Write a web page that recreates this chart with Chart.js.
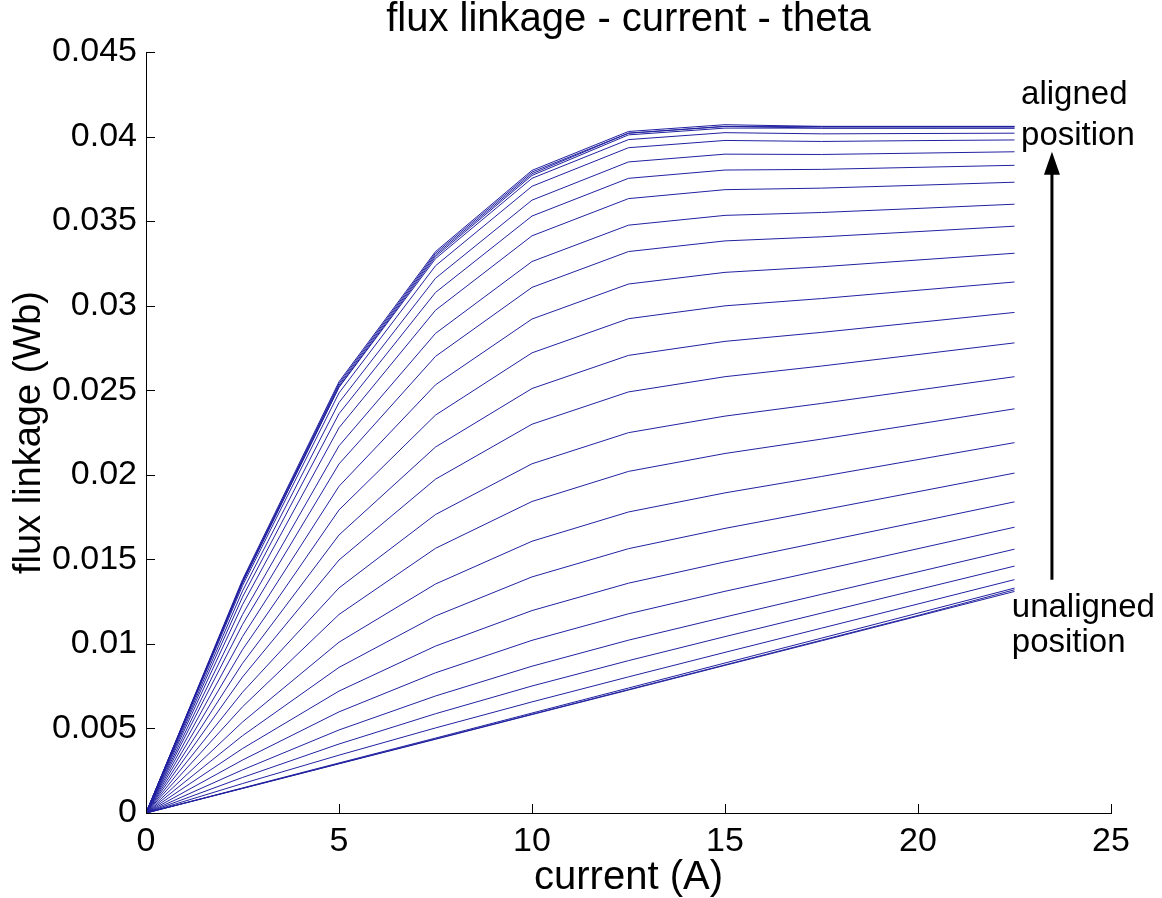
<!DOCTYPE html>
<html>
<head>
<meta charset="utf-8">
<title>flux linkage - current - theta</title>
<script src="https://cdn.jsdelivr.net/npm/chart.js@4.4.0/dist/chart.umd.min.js"></script>
<style>
    html, body { margin: 0; padding: 0; background: #fff; }
    #chart { display: block; }
</style>
</head>
<body>
<canvas id="chart" width="1162" height="898"></canvas>
<script>
// Current samples (A)
const current = [0, 2.5, 5, 7.5, 10, 12.5, 15, 17.5, 20, 22.5];

// Flux linkage (Wb), one curve per rotor position, unaligned -> aligned
const flux01 = [0, 0.00145, 0.00291, 0.00436, 0.00582, 0.00727, 0.00873, 0.01018, 0.01164, 0.0131];
const flux02 = [0, 0.00146, 0.00292, 0.00438, 0.00584, 0.0073, 0.00876, 0.01022, 0.01168, 0.0132];
const flux03 = [0, 0.00148, 0.00296, 0.00443, 0.00591, 0.00739, 0.00887, 0.01034, 0.01182, 0.0133];
const flux04 = [0, 0.00174, 0.00342, 0.00503, 0.00657, 0.00805, 0.0095, 0.01093, 0.01236, 0.0138];
const flux05 = [0, 0.0021, 0.00408, 0.00587, 0.00751, 0.00901, 0.01043, 0.01182, 0.01321, 0.0146];
const flux06 = [0, 0.00255, 0.00491, 0.00692, 0.00868, 0.01022, 0.01159, 0.01293, 0.01426, 0.0156];
const flux07 = [0, 0.00313, 0.00598, 0.00829, 0.01021, 0.01178, 0.01311, 0.01436, 0.01563, 0.0169];
const flux08 = [0, 0.00381, 0.00721, 0.00987, 0.01197, 0.01359, 0.01485, 0.01603, 0.01721, 0.0184];
const flux09 = [0, 0.00457, 0.00861, 0.01165, 0.01396, 0.01563, 0.01683, 0.01791, 0.019, 0.0201];
const flux10 = [0, 0.00538, 0.0101, 0.01354, 0.01607, 0.0178, 0.01893, 0.0199, 0.0209, 0.0219];
const flux11 = [0, 0.00628, 0.01174, 0.01565, 0.01842, 0.0202, 0.02126, 0.02211, 0.023, 0.0239];
const flux12 = [0, 0.00714, 0.01331, 0.01765, 0.02065, 0.02249, 0.02347, 0.02422, 0.02501, 0.0258];
const flux13 = [0, 0.00804, 0.01496, 0.01974, 0.02299, 0.0249, 0.0258, 0.02643, 0.02711, 0.0278];
const flux14 = [0, 0.00885, 0.01644, 0.02164, 0.0251, 0.02706, 0.02789, 0.02842, 0.02901, 0.0296];
const flux15 = [0, 0.00966, 0.01792, 0.02353, 0.02721, 0.02923, 0.02999, 0.03042, 0.03091, 0.0314];
const flux16 = [0, 0.01043, 0.01932, 0.02532, 0.02921, 0.03128, 0.03197, 0.0323, 0.0327, 0.0331];
const flux17 = [0, 0.01115, 0.02064, 0.027, 0.03108, 0.0332, 0.03383, 0.03407, 0.03438, 0.0347];
const flux18 = [0, 0.01173, 0.02171, 0.02836, 0.03261, 0.03476, 0.03534, 0.03551, 0.03575, 0.036];
const flux19 = [0, 0.01232, 0.02278, 0.02973, 0.03413, 0.03633, 0.03686, 0.03695, 0.03712, 0.0373];
const flux20 = [0, 0.01277, 0.02361, 0.03078, 0.0353, 0.03753, 0.03802, 0.03806, 0.03818, 0.0383];
const flux21 = [0, 0.01313, 0.02427, 0.03162, 0.03624, 0.0385, 0.03896, 0.03894, 0.03902, 0.0391];
const flux22 = [0, 0.01344, 0.02484, 0.03236, 0.03706, 0.03934, 0.03977, 0.03971, 0.03976, 0.0398];
const flux23 = [0, 0.01362, 0.02517, 0.03278, 0.03753, 0.03982, 0.04023, 0.04016, 0.04018, 0.0402];
const flux24 = [0, 0.0136, 0.0252, 0.0329, 0.0377, 0.0401, 0.0405, 0.0405, 0.0405, 0.0405];
const flux25 = [0, 0.0137, 0.0253, 0.033, 0.0378, 0.0402, 0.0406, 0.0405, 0.0405, 0.0405];
const flux26 = [0, 0.0137, 0.0254, 0.0331, 0.0379, 0.0402, 0.0406, 0.0406, 0.0406, 0.0406];
const flux27 = [0, 0.0138, 0.0255, 0.0332, 0.038, 0.0403, 0.0407, 0.0406, 0.0406, 0.0406];

const curves = [flux01, flux02, flux03, flux04, flux05, flux06, flux07, flux08, flux09,
    flux10, flux11, flux12, flux13, flux14, flux15, flux16, flux17, flux18, flux19,
    flux20, flux21, flux22, flux23, flux24, flux25, flux26, flux27];

// Tick labels
const xTickLabels = ['0', '5', '10', '15', '20', '25'];
const yTickLabels = ['0', '0.005', '0.01', '0.015', '0.02', '0.025', '0.03', '0.035', '0.04', '0.045'];

const FONT = '"Liberation Sans", Arial, Helvetica, sans-serif';
const LINE_COLOR = '#2121a0';

// MATLAB style ticks pointing inside the axes
const insideTicks = {
    id: 'insideTicks',
    afterDraw(chart) {
        const { ctx, chartArea, scales } = chart;
        ctx.save();
        ctx.strokeStyle = '#000';
        ctx.lineWidth = 1;
        ctx.beginPath();
        scales.x.ticks.forEach(t => {
            const px = Math.round(scales.x.getPixelForValue(t.value)) + 0.5;
            ctx.moveTo(px, chartArea.bottom);
            ctx.lineTo(px, chartArea.bottom - 9);
        });
        scales.y.ticks.forEach(t => {
            const py = Math.round(scales.y.getPixelForValue(t.value)) + 0.5;
            ctx.moveTo(chartArea.left, py);
            ctx.lineTo(chartArea.left + 9, py);
        });
        ctx.stroke();
        ctx.restore();
    }
};

// "aligned / unaligned position" notes and the arrow between them
const positionNotes = {
    id: 'positionNotes',
    afterDraw(chart) {
        const { ctx, scales } = chart;
        const x = scales.x, y = scales.y;
        ctx.save();
        ctx.fillStyle = '#000';
        ctx.font = '33px ' + FONT;
        ctx.textAlign = 'left';
        ctx.textBaseline = 'alphabetic';
        ctx.fillText('aligned', x.getPixelForValue(22.67), y.getPixelForValue(0.0419));
        ctx.fillText('position', x.getPixelForValue(22.67), y.getPixelForValue(0.0395));
        ctx.fillText('unaligned', x.getPixelForValue(22.43), y.getPixelForValue(0.0116));
        ctx.fillText('position', x.getPixelForValue(22.43), y.getPixelForValue(0.0095));

        // arrow
        const ax = x.getPixelForValue(23.47);
        const top = y.getPixelForValue(0.0391);
        const bottom = y.getPixelForValue(0.0138);
        ctx.strokeStyle = '#000';
        ctx.lineWidth = 3;
        ctx.beginPath();
        ctx.moveTo(ax, bottom);
        ctx.lineTo(ax, top + 20);
        ctx.stroke();
        ctx.beginPath();
        ctx.moveTo(ax, top);
        ctx.lineTo(ax - 8, top + 23);
        ctx.lineTo(ax + 8, top + 23);
        ctx.closePath();
        ctx.fill();
        ctx.restore();
    }
};

const ctx = document.getElementById('chart').getContext('2d');
new Chart(ctx, {
    type: 'line',
    data: {
        datasets: curves.map(c => ({
            data: c.map((v, i) => ({ x: current[i], y: v })),
            borderColor: LINE_COLOR,
            borderWidth: 1,
            pointRadius: 0,
            tension: 0,
            fill: false
        }))
    },
    options: {
        responsive: false,
        devicePixelRatio: 1,
        animation: false,
        layout: { padding: { left: 0, right: 51, top: 0, bottom: 0 } },
        plugins: {
            legend: { display: false },
            tooltip: { enabled: false },
            title: {
                display: true,
                fullSize: false,
                text: 'flux linkage - current - theta',
                color: '#000',
                font: { family: FONT, size: 40, weight: 'normal', lineHeight: 1 },
                padding: { top: 0, bottom: 12 }
            }
        },
        scales: {
            x: {
                type: 'linear',
                min: 0,
                max: 25,
                afterBuildTicks: scale => {
                    scale.ticks = xTickLabels.map(l => ({ value: parseFloat(l) }));
                },
                afterFit: scale => { scale.height = 85; },
                ticks: {
                    color: '#000',
                    font: { family: FONT, size: 34 },
                    padding: 8,
                    maxRotation: 0,
                    callback: (v, i) => xTickLabels[i]
                },
                grid: { display: false, drawTicks: false },
                border: { display: true, color: '#000', width: 1 },
                title: {
                    display: true,
                    text: 'current (A)',
                    color: '#000',
                    font: { family: FONT, size: 40, lineHeight: 1 },
                    padding: { top: 0, bottom: 0 }
                }
            },
            y: {
                type: 'linear',
                min: 0,
                max: 0.045,
                afterBuildTicks: scale => {
                    scale.ticks = yTickLabels.map(l => ({ value: parseFloat(l) }));
                },
                afterFit: scale => { scale.width = 146; },
                ticks: {
                    color: '#000',
                    font: { family: FONT, size: 34 },
                    padding: 9,
                    callback: (v, i) => yTickLabels[i]
                },
                grid: { display: false, drawTicks: false },
                border: { display: true, color: '#000', width: 1 },
                title: {
                    display: true,
                    text: 'flux linkage (Wb)',
                    color: '#000',
                    font: { family: FONT, size: 38, lineHeight: 1 },
                    padding: { top: 11, bottom: 0 }
                }
            }
        }
    },
    plugins: [insideTicks, positionNotes]
});
</script>
</body>
</html>
